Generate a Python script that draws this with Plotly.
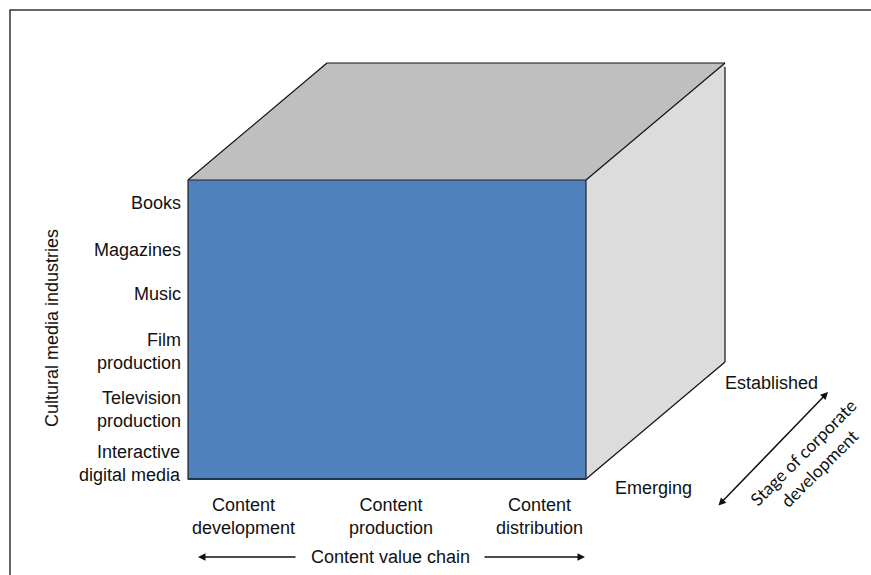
import plotly.graph_objects as go

# ---------------- data ----------------
industries = ["Books", "Magazines", "Music", "Film<br>production",
              "Television<br>production", "Interactive<br>digital media"]
value_chain = ["Content<br>development", "Content<br>production", "Content<br>distribution"]
stages = ["Emerging", "Established"]
industry_title = "Cultural media industries"
chain_title = "Content value chain"
stage_title = "Stage of corporate<br>development"

# ---------------- layout constants (pixel space) ----------------
W, H = 871, 575
FRONT_X0, FRONT_X1 = 188, 586
FRONT_Y0, FRONT_Y1 = 180, 479
DEPTH_DX, DEPTH_DY = 139, -117

ROW_LABEL_X = 183
ROW_LABEL_Y = [203, 250, 294, 351, 409, 463]
COL_LABEL_X = [243, 391, 539]
COL_LABEL_Y = 516
STAGE_LABEL_POS = [(613, 488), (723, 383)]

FONT = "Liberation Sans, Arial, sans-serif"
FS = 18

C_FRONT = "#4F81BD"
C_TOP = "#BFBFBF"
C_SIDE = "#DCDCDC"

fig = go.Figure()

def path(pts):
    return "M " + " L ".join(f"{x},{y}" for x, y in pts) + " Z"

fl, fr, ft, fb = FRONT_X0, FRONT_X1, FRONT_Y0, FRONT_Y1
top_face = [(fl, ft), (fl + DEPTH_DX, ft + DEPTH_DY), (fr + DEPTH_DX, ft + DEPTH_DY), (fr, ft)]
side_face = [(fr, ft), (fr + DEPTH_DX, ft + DEPTH_DY), (fr + DEPTH_DX, fb + DEPTH_DY), (fr, fb)]

shapes = []
# outer frame
shapes.append(dict(type="rect", xref="x", yref="y", x0=10, y0=10, x1=W + 20, y1=H + 20,
                   line=dict(color="#333333", width=1.5), fillcolor="rgba(0,0,0,0)"))
# top face
shapes.append(dict(type="path", xref="x", yref="y", path=path(top_face),
                   fillcolor=C_TOP, line=dict(width=0)))
# side face
shapes.append(dict(type="path", xref="x", yref="y", path=path(side_face),
                   fillcolor=C_SIDE, line=dict(width=0)))
# edges of top & side
edges = [
    ((fl, ft), (fl + DEPTH_DX, ft + DEPTH_DY)),
    ((fl + DEPTH_DX, ft + DEPTH_DY), (fr + DEPTH_DX, ft + DEPTH_DY)),
    ((fr, ft), (fr + DEPTH_DX, ft + DEPTH_DY)),
    ((fr + DEPTH_DX, ft + DEPTH_DY + 4), (fr + DEPTH_DX, fb + DEPTH_DY)),
    ((fr, fb), (fr + DEPTH_DX, fb + DEPTH_DY)),
]
for (x0, y0), (x1, y1) in edges:
    shapes.append(dict(type="line", xref="x", yref="y", x0=x0, y0=y0, x1=x1, y1=y1,
                       line=dict(color="#111111", width=1.2)))
# front face
shapes.append(dict(type="rect", xref="x", yref="y", x0=fl, y0=ft, x1=fr, y1=fb,
                   fillcolor=C_FRONT, line=dict(color="#222222", width=1.2)))
shapes.append(dict(type="line", xref="x", yref="y", x0=fl, y0=fb, x1=fr, y1=fb,
                   line=dict(color="#1F3550", width=2)))

annotations = []
# row labels
for lab, y in zip(industries, ROW_LABEL_Y):
    annotations.append(dict(x=ROW_LABEL_X, y=y, xref="x", yref="y", text=lab,
                            showarrow=False, xanchor="right", yanchor="middle", align="right",
                            font=dict(family=FONT, size=FS, color="#111111")))
# column labels
for lab, x in zip(value_chain, COL_LABEL_X):
    annotations.append(dict(x=x, y=COL_LABEL_Y, xref="x", yref="y", text=lab,
                            showarrow=False, xanchor="center", yanchor="middle", align="center",
                            font=dict(family=FONT, size=FS, color="#111111")))
# stage labels
for lab, (x, y) in zip(stages, STAGE_LABEL_POS):
    annotations.append(dict(x=x, y=y, xref="x", yref="y", text=lab,
                            showarrow=False, xanchor="left", yanchor="middle",
                            font=dict(family=FONT, size=FS, color="#111111")))
# y title
annotations.append(dict(x=52, y=328, xref="x", yref="y", text=industry_title, textangle=-90,
                        showarrow=False, xanchor="center", yanchor="middle",
                        font=dict(family=FONT, size=FS, color="#111111")))
# chain title + arrows
annotations.append(dict(x=390, y=557, xref="x", yref="y", text=chain_title,
                        showarrow=False, xanchor="center", yanchor="middle",
                        font=dict(family=FONT, size=FS, color="#111111")))
arrow_style = dict(xref="x", yref="y", axref="x", ayref="y", text="", showarrow=True,
                   arrowhead=2, arrowsize=1, arrowwidth=1.5, arrowcolor="#111111")
annotations.append(dict(x=198, y=557, ax=297, ay=557, **arrow_style))
annotations.append(dict(x=585, y=557, ax=483, ay=557, **arrow_style))
annotations.append(dict(x=828, y=392, ax=717, ay=507, arrowside="end+start", **arrow_style))
# stage title (rotated)
annotations.append(dict(x=811, y=461, xref="x", yref="y", text=stage_title, textangle=-45,
                        showarrow=False, xanchor="center", yanchor="middle", align="center",
                        font=dict(family="Lato, Carlito, sans-serif", size=17.5, color="#111111")))

fig.update_layout(
    width=W, height=H,
    margin=dict(l=0, r=0, t=0, b=0),
    paper_bgcolor="white", plot_bgcolor="white",
    xaxis=dict(range=[0, W], visible=False, fixedrange=True),
    yaxis=dict(range=[H, 0], visible=False, fixedrange=True),
    shapes=shapes, annotations=annotations,
    showlegend=False,
)
fig.write_html("out.html")
